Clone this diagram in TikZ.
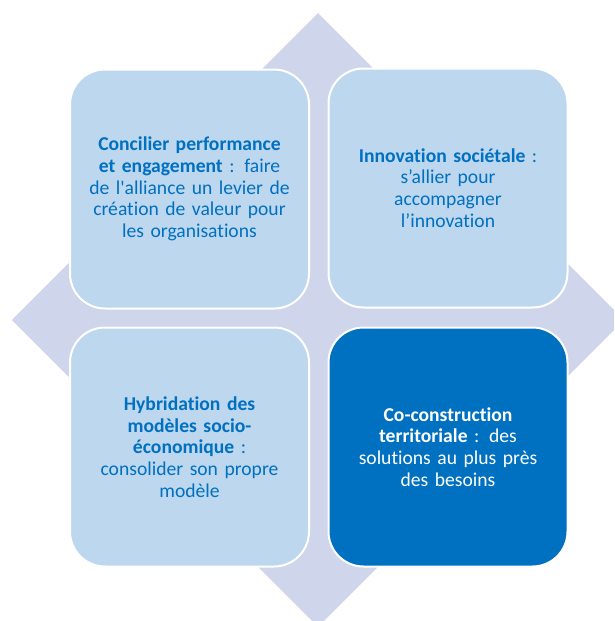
\documentclass[tikz,border=0pt]{standalone}
\usepackage{fontspec}
\setmainfont{Carlito}[Ligatures=NoCommon]
\usepackage{tikz}
\definecolor{diamondcol}{HTML}{CFD5EA}
\definecolor{lightcol}{HTML}{BDD7EE}
\definecolor{darkcol}{HTML}{0070C0}
\newcommand{\straightquote}{\XeTeXglyph\XeTeXcharglyph"27\relax}

\begin{document}
\begin{tikzpicture}[x=1pt, y=-1pt]
			\tikzstyle{tile}=[rectangle, rounded corners=35pt, minimum size=239pt, draw=white, line width=2pt, text width=220pt, align=center, font=\fontsize{19.6}{21.8}\selectfont]
			\tikzstyle{light}=[tile, fill=lightcol, text=darkcol]
			\tikzstyle{dark}=[tile, fill=darkcol, text=white]
			
			\clip (0,0) rectangle (614,621);
			
			% Draw background diamond
			\fill[diamondcol] (318,13) -- (624,320) -- (318,627) -- (12,320) -- cycle;
			
			% Draw the four tiles
			\node[light] (perf) at (189.5,189) {\textbf{Concilier performance}\\ \textbf{et engagement} : faire\\ de l\straightquote alliance un levier de\\ création de valeur pour\\ les organisations};
			\node[light] (innov) at (448,188) {\textbf{Innovation sociétale} :\\ s’allier pour\\ accompagner\\ l’innovation};
			\node[light] (hybrid) at (189.5,447) {\textbf{Hybridation des}\\ \textbf{modèles socio-}\\ \textbf{économique} :\\ consolider son propre\\ modèle};
			\node[dark] (coconst) at (448,447) {\textbf{Co-construction}\\ \textbf{territoriale} : des\\ solutions au plus près\\ des besoins};
			
		\end{tikzpicture}
\end{document}
